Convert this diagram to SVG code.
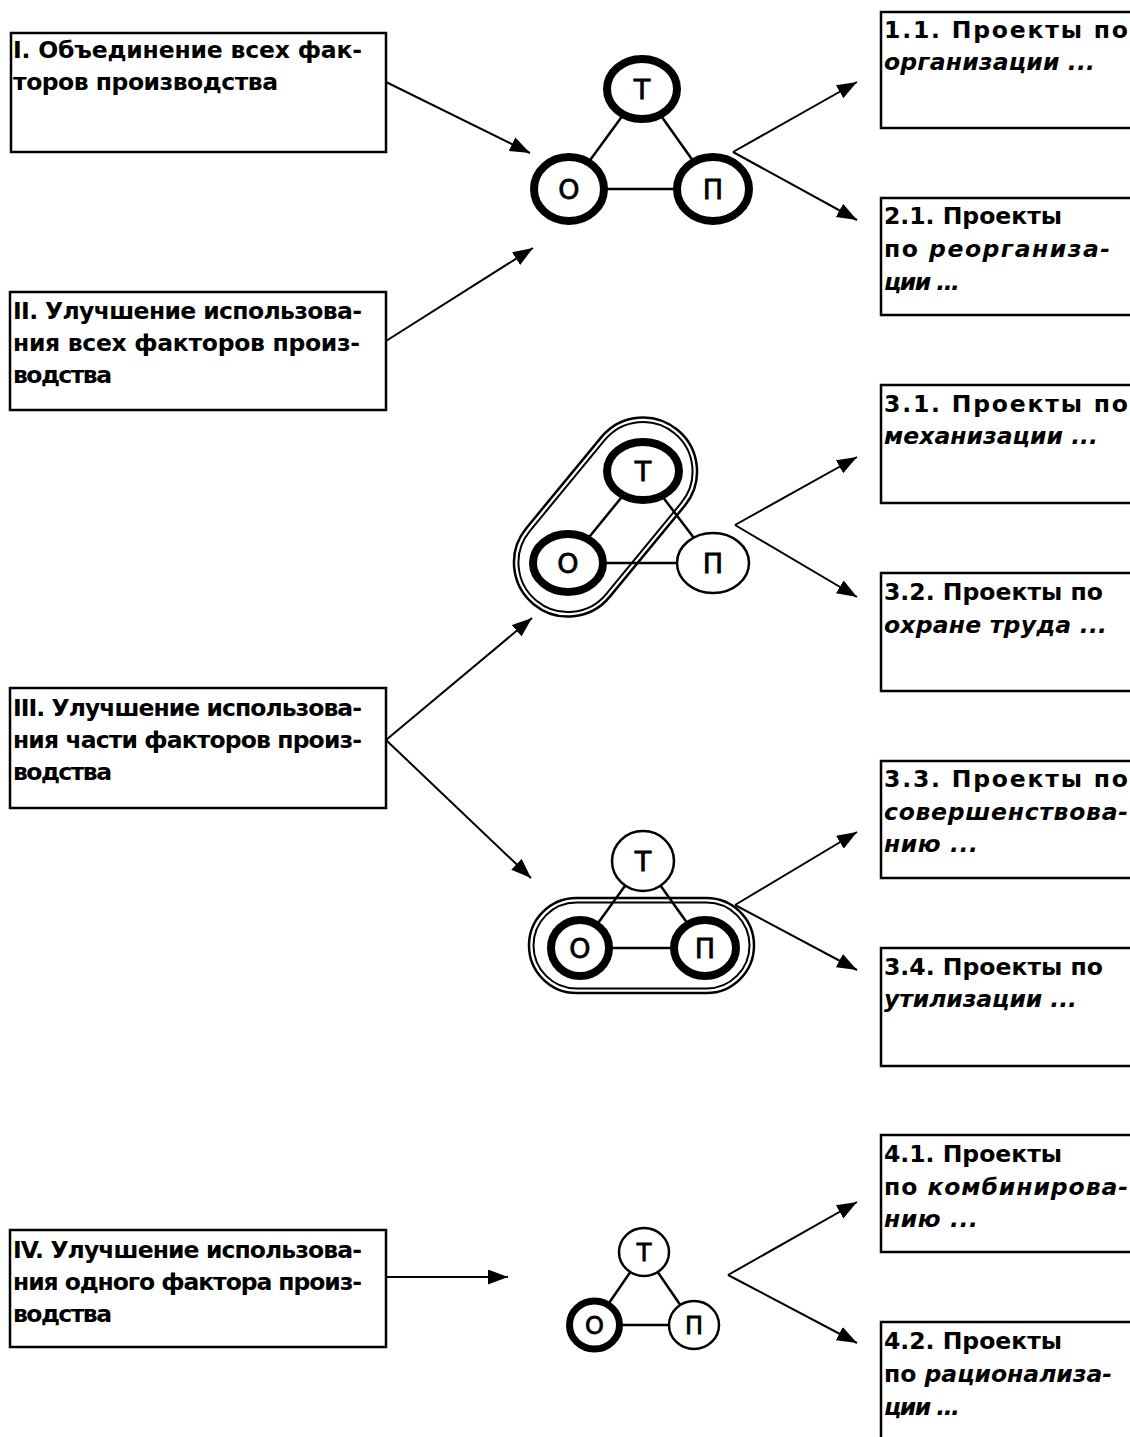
<svg xmlns="http://www.w3.org/2000/svg" width="1130" height="1437" viewBox="0 0 1130 1437">
<defs>
<marker id="ah" markerUnits="userSpaceOnUse" markerWidth="22" markerHeight="16" refX="20" refY="7.5" orient="auto">
<path d="M0,0 L20,7.5 L0,15 z" fill="#000"/>
</marker>
<style>
.box{fill:#fff;stroke:#000;stroke-width:2.5}
.t{font-family:"DejaVu Sans","Liberation Sans",sans-serif;font-size:23.5px;font-weight:bold;fill:#000}
.i{font-style:italic}
.con{stroke:#000;stroke-width:2;fill:none;marker-end:url(#ah)}
.edge{stroke:#000;stroke-width:2.5}
.thick{fill:#fff;stroke:#000;stroke-width:8}
.thin{fill:#fff;stroke:#000;stroke-width:2.5}
.lbl{font-family:"DejaVu Sans","Liberation Sans",sans-serif;font-size:27px;fill:#000;text-anchor:middle;stroke:#000;stroke-width:0.8}
.sm{font-size:24px}
.st{fill:none;stroke:#000;stroke-width:2.5}
.st2{fill:none;stroke:#000;stroke-width:2}
</style>
</defs>
<rect width="1130" height="1437" fill="#fff"/>

<g id="box-I">
<rect class="box" x="11" y="33" width="375" height="119"/>
<text class="t" x="13" y="58" textLength="349" lengthAdjust="spacing">I. Объединение всех фак-</text>
<text class="t" x="13" y="90" textLength="265" lengthAdjust="spacing">торов производства</text>
</g>
<g id="box-II">
<rect class="box" x="10" y="292" width="376" height="118"/>
<text class="t" x="13" y="319" textLength="349" lengthAdjust="spacing">II. Улучшение использова-</text>
<text class="t" x="13" y="351" textLength="347" lengthAdjust="spacing">ния всех факторов произ-</text>
<text class="t" x="13" y="383" textLength="99" lengthAdjust="spacing">водства</text>
</g>
<g id="box-III">
<rect class="box" x="10" y="688" width="376" height="120"/>
<text class="t" x="13" y="716" textLength="349" lengthAdjust="spacing">III. Улучшение использова-</text>
<text class="t" x="13" y="748" textLength="349" lengthAdjust="spacing">ния части факторов произ-</text>
<text class="t" x="13" y="780" textLength="99" lengthAdjust="spacing">водства</text>
</g>
<g id="box-IV">
<rect class="box" x="10" y="1230" width="376" height="117"/>
<text class="t" x="13" y="1258" textLength="349" lengthAdjust="spacing">IV. Улучшение использова-</text>
<text class="t" x="13" y="1290" textLength="349" lengthAdjust="spacing">ния одного фактора произ-</text>
<text class="t" x="13" y="1322" textLength="99" lengthAdjust="spacing">водства</text>
</g>

<g id="box-1-1">
<rect class="box" x="881" y="12" width="260" height="116"/>
<text class="t" x="884" y="38" textLength="244" lengthAdjust="spacing">1.1.  Проекты  по</text>
<text class="t i" x="884" y="70" textLength="211" lengthAdjust="spacing">организации ...</text>
</g>
<g id="box-2-1">
<rect class="box" x="881" y="198" width="260" height="117"/>
<text class="t" x="884" y="224" textLength="178" lengthAdjust="spacing">2.1. Проекты</text>
<text class="t" x="884" y="257" textLength="226" lengthAdjust="spacing">по <tspan class="i">реорганиза-</tspan></text>
<text class="t i" x="884" y="290" textLength="76" lengthAdjust="spacing">ции ...</text>
</g>
<g id="box-3-1">
<rect class="box" x="881" y="385" width="260" height="118"/>
<text class="t" x="884" y="412" textLength="244" lengthAdjust="spacing">3.1.  Проекты  по</text>
<text class="t i" x="884" y="444" textLength="214" lengthAdjust="spacing">механизации ...</text>
</g>
<g id="box-3-2">
<rect class="box" x="881" y="573" width="260" height="118"/>
<text class="t" x="884" y="600" textLength="219" lengthAdjust="spacing">3.2. Проекты по</text>
<text class="t i" x="884" y="633" textLength="223" lengthAdjust="spacing">охране труда ...</text>
</g>
<g id="box-3-3">
<rect class="box" x="881" y="761" width="260" height="117"/>
<text class="t" x="884" y="787" textLength="244" lengthAdjust="spacing">3.3.  Проекты  по</text>
<text class="t i" x="884" y="820" textLength="244" lengthAdjust="spacing">совершенствова-</text>
<text class="t i" x="884" y="852" textLength="94" lengthAdjust="spacing">нию ...</text>
</g>
<g id="box-3-4">
<rect class="box" x="881" y="948" width="260" height="118"/>
<text class="t" x="884" y="975" textLength="219" lengthAdjust="spacing">3.4. Проекты по</text>
<text class="t i" x="884" y="1007" textLength="193" lengthAdjust="spacing">утилизации ...</text>
</g>
<g id="box-4-1">
<rect class="box" x="881" y="1135" width="260" height="117"/>
<text class="t" x="884" y="1162" textLength="178" lengthAdjust="spacing">4.1. Проекты</text>
<text class="t" x="884" y="1195" textLength="244" lengthAdjust="spacing">по  <tspan class="i">комбинирова-</tspan></text>
<text class="t i" x="884" y="1227" textLength="94" lengthAdjust="spacing">нию ...</text>
</g>
<g id="box-4-2">
<rect class="box" x="881" y="1322" width="260" height="130"/>
<text class="t" x="884" y="1349" textLength="178" lengthAdjust="spacing">4.2. Проекты</text>
<text class="t" x="884" y="1382" textLength="228" lengthAdjust="spacing">по <tspan class="i">рационализа-</tspan></text>
<text class="t i" x="884" y="1415" textLength="76" lengthAdjust="spacing">ции ...</text>
</g>

<g id="connectors">
<line class="con" x1="386" y1="82" x2="530" y2="153"/>
<line class="con" x1="386" y1="341" x2="533" y2="248"/>
<line class="con" x1="733" y1="152" x2="857" y2="82"/>
<line class="con" x1="733" y1="152" x2="857" y2="220"/>
<line class="con" x1="386" y1="740" x2="532" y2="618"/>
<line class="con" x1="386" y1="740" x2="531" y2="878"/>
<line class="con" x1="735" y1="525" x2="857" y2="457"/>
<line class="con" x1="735" y1="525" x2="857" y2="597"/>
<line class="con" x1="735" y1="905" x2="857" y2="832"/>
<line class="con" x1="735" y1="905" x2="857" y2="970"/>
<line class="con" x1="728" y1="1275" x2="857" y2="1202"/>
<line class="con" x1="728" y1="1275" x2="857" y2="1343"/>
<line class="con" x1="386" y1="1277" x2="508" y2="1277"/>
</g>

<g id="triangle-1">
<line class="edge" x1="642" y1="89" x2="569" y2="189"/>
<line class="edge" x1="642" y1="89" x2="713" y2="189"/>
<line class="edge" x1="569" y1="189" x2="713" y2="189"/>
<ellipse class="thick" cx="642" cy="89" rx="35" ry="30"/>
<ellipse class="thick" cx="569" cy="189" rx="35" ry="32"/>
<ellipse class="thick" cx="713" cy="189" rx="36" ry="32"/>
<text class="lbl" x="642" y="99">Т</text>
<text class="lbl" x="569" y="199">О</text>
<text class="lbl" x="713" y="199">П</text>
</g>

<g id="triangle-2">
<line class="edge" x1="643" y1="471" x2="568" y2="563"/>
<line class="edge" x1="643" y1="471" x2="713" y2="563"/>
<line class="edge" x1="568" y1="563" x2="713" y2="563"/>
<ellipse class="thick" cx="643" cy="471" rx="36" ry="29"/>
<ellipse class="thick" cx="568" cy="563" rx="35" ry="29"/>
<ellipse class="thin" cx="713" cy="563" rx="36" ry="30"/>
<text class="lbl" x="643" y="481">Т</text>
<text class="lbl" x="568" y="573">О</text>
<text class="lbl" x="713" y="573">П</text>
<g transform="translate(605.5 517) rotate(-50.5)">
<rect class="st" x="-113" y="-54" width="226" height="108" rx="54"/>
<rect class="st2" x="-108.5" y="-49.5" width="217" height="99" rx="49.5"/>
</g>
</g>

<g id="triangle-3">
<line class="edge" x1="643" y1="861" x2="580" y2="948"/>
<line class="edge" x1="643" y1="861" x2="705" y2="948"/>
<line class="edge" x1="580" y1="948" x2="705" y2="948"/>
<ellipse class="thin" cx="643" cy="861" rx="31" ry="30"/>
<ellipse class="thick" cx="580" cy="948" rx="29" ry="28"/>
<ellipse class="thick" cx="705" cy="948" rx="31" ry="28"/>
<text class="lbl" x="643" y="871">Т</text>
<text class="lbl" x="580" y="958">О</text>
<text class="lbl" x="705" y="958">П</text>
<rect class="st" x="529" y="898" width="225" height="95" rx="47.5"/>
<rect class="st2" x="533.5" y="902.5" width="216" height="86" rx="43"/>
</g>

<g id="triangle-4">
<line class="edge" x1="644" y1="1252" x2="594" y2="1325"/>
<line class="edge" x1="644" y1="1252" x2="694" y2="1325"/>
<line class="edge" x1="594" y1="1325" x2="694" y2="1325"/>
<ellipse class="thin" cx="644" cy="1252" rx="25" ry="24"/>
<ellipse class="thick" cx="594.5" cy="1325" rx="25" ry="24" style="stroke-width:7"/>
<ellipse class="thin" cx="694" cy="1325" rx="25" ry="24"/>
<text class="lbl sm" x="644" y="1261">Т</text>
<text class="lbl sm" x="594.5" y="1334">О</text>
<text class="lbl sm" x="694" y="1334">П</text>
</g>
</svg>
